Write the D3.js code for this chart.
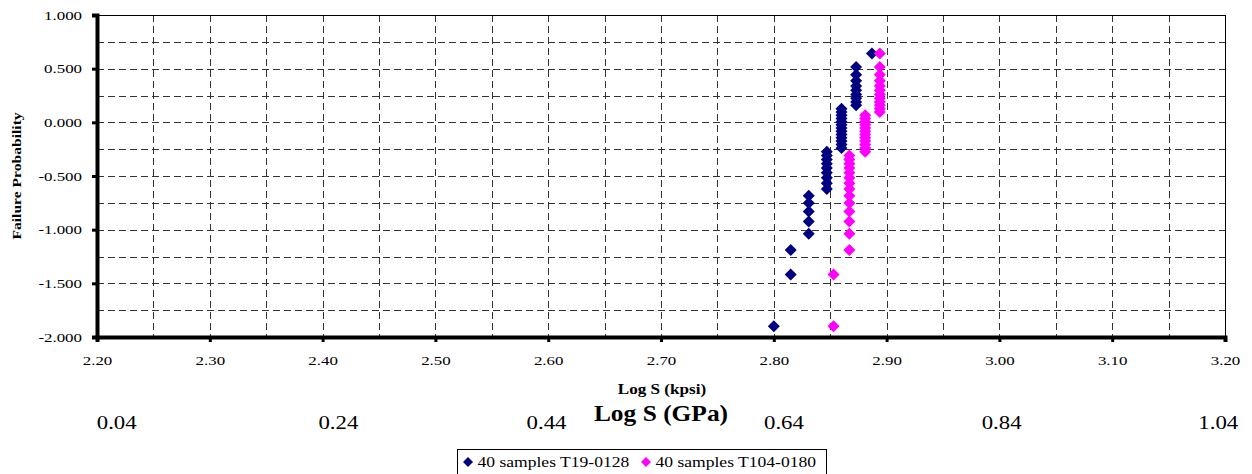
<!DOCTYPE html>
<html>
<head>
<meta charset="utf-8">
<script src="https://cdn.jsdelivr.net/npm/d3@7"></script>
<style>
  html, body { margin: 0; padding: 0; background: #fff; }
  svg { display: block; }
</style>
</head>
<body>
<svg id="chart" width="1252" height="474"></svg>
<script>
// ---- data ----
const xTicks = [2.20, 2.30, 2.40, 2.50, 2.60, 2.70, 2.80, 2.90, 3.00, 3.10, 3.20];
const yTicks = [1.0, 0.5, 0.0, -0.5, -1.0, -1.5, -2.0];
const gpaLabels = ["0.04", "0.24", "0.44", "0.64", "0.84", "1.04"];
const gpaLabelPos = [2.2175, 2.414, 2.5985, 2.809, 3.002, 3.194]; // kpsi-axis position of each label
const seriesNames = ["40 samples T19-0128", "40 samples T104-0180"];
const seriesColors = ["#000080", "#FF00FF"];

// failure probability (y) for ranks 1..40
const failureProb = [
  -1.900, -1.418, -1.190, -1.038, -0.923, -0.830, -0.751, -0.683, -0.622, -0.567,
  -0.516, -0.470, -0.426, -0.385, -0.347, -0.310, -0.274, -0.240, -0.207, -0.175,
  -0.144, -0.113, -0.083, -0.053, -0.023,  0.006,  0.036,  0.066,  0.096,  0.126,
   0.158,  0.190,  0.224,  0.259,  0.298,  0.339,  0.387,  0.443,  0.516,  0.642
];
// Log S (kpsi) for series 1 (navy), ranks 1..40
const logS_T19 = [
  2.800, 2.815, 2.815, 2.831, 2.831, 2.831, 2.831, 2.831, 2.847, 2.847,
  2.847, 2.847, 2.847, 2.847, 2.847, 2.847, 2.847, 2.860, 2.860, 2.860,
  2.860, 2.860, 2.860, 2.860, 2.860, 2.860, 2.860, 2.860, 2.860, 2.860,
  2.873, 2.873, 2.873, 2.873, 2.873, 2.873, 2.873, 2.873, 2.873, 2.887
];
// Log S (kpsi) for series 2 (magenta), ranks 1..40
const logS_T104 = [
  2.853, 2.853, 2.867, 2.867, 2.867, 2.867, 2.867, 2.867, 2.867, 2.867,
  2.867, 2.867, 2.867, 2.867, 2.867, 2.867, 2.881, 2.881, 2.881, 2.881,
  2.881, 2.881, 2.881, 2.881, 2.881, 2.881, 2.881, 2.881, 2.894, 2.894,
  2.894, 2.894, 2.894, 2.894, 2.894, 2.894, 2.894, 2.894, 2.894, 2.894
];

// ---- layout ----
const FONT = "Liberation Serif";
const L = 97, R = 1225, T = 15, B = 337;
const svg = d3.select("#chart").attr("font-family", FONT);
const x = d3.scaleLinear().domain([2.2, 3.2]).range([L, R]);
const y = d3.scaleLinear().domain([-2, 1]).range([B, T]);

// the reference text is horizontally stretched; widen glyphs by a factor
function stretch(sel, k) {
  sel.each(function () {
    const w = this.getComputedTextLength();
    d3.select(this).attr("textLength", w * k).attr("lengthAdjust", "spacingAndGlyphs");
  });
}
const fmt3 = d => d3.format(".3f")(d).replace("\u2212", "-");
const fmt2 = d => d3.format(".2f")(d).replace("\u2212", "-");

// gridlines
const grid = svg.append("g").attr("stroke", "#333").attr("stroke-width", 1)
  .attr("stroke-dasharray", "7,4").attr("fill", "none");
const vGrid = d3.range(2.25, 3.19, 0.05);
grid.selectAll("line.v").data(vGrid).join("line")
  .attr("x1", d => Math.round(x(d)) + 0.5).attr("x2", d => Math.round(x(d)) + 0.5)
  .attr("y1", T).attr("y2", B);
const hGrid = d3.range(-1.75, 0.99, 0.25);
grid.selectAll("line.h").data(hGrid).join("line")
  .attr("x1", L).attr("x2", R)
  .attr("y1", d => Math.round(y(d)) + 0.5).attr("y2", d => Math.round(y(d)) + 0.5);

// top and right border
svg.append("line").attr("x1", L).attr("x2", R + 1).attr("y1", T + 0.5).attr("y2", T + 0.5)
  .attr("stroke", "#000").attr("stroke-width", 1);
svg.append("line").attr("x1", R + 0.5).attr("x2", R + 0.5).attr("y1", T).attr("y2", B)
  .attr("stroke", "#000").attr("stroke-width", 1);

// axes
const yAxis = d3.axisLeft(y).tickValues(yTicks).tickFormat(fmt3).tickSize(5).tickPadding(10);
const gy = svg.append("g").attr("transform", `translate(${L},0)`).call(yAxis).attr("font-family", FONT);
gy.select(".domain").attr("stroke", "#000").attr("stroke-width", 4);
gy.selectAll(".tick line").attr("stroke", "#000").attr("stroke-width", 3);
gy.selectAll(".tick text").attr("font-size", 12.5).attr("fill", "#000").call(stretch, 1.35);

const xAxis = d3.axisBottom(x).tickValues(xTicks).tickFormat(fmt2).tickSize(5).tickPadding(14);
const gx = svg.append("g").attr("transform", `translate(0,${B})`).call(xAxis).attr("font-family", FONT);
gx.select(".domain").attr("stroke", "#000").attr("stroke-width", 4);
gx.selectAll(".tick line").attr("stroke", "#000").attr("stroke-width", 3);
gx.selectAll(".tick text").attr("font-size", 12.5).attr("fill", "#000").call(stretch, 1.35);

// titles
svg.append("text").attr("x", 662).attr("y", 394).attr("text-anchor", "middle")
  .attr("font-size", 14.5).attr("font-weight", "bold").text("Log S (kpsi)").call(stretch, 1.18);
svg.append("text").attr("x", 661).attr("y", 421).attr("text-anchor", "middle")
  .attr("font-size", 22.5).attr("font-weight", "bold").text("Log S (GPa)").call(stretch, 1.13);
svg.append("text").attr("transform", "translate(21,176) rotate(-90)").attr("text-anchor", "middle")
  .attr("font-size", 12).attr("font-weight", "bold").text("Failure Probability").call(stretch, 1.3);

// GPa secondary labels
svg.selectAll("text.gpa").data(gpaLabels).join("text").attr("class", "gpa")
  .attr("x", (d, i) => x(gpaLabelPos[i])).attr("y", 429).attr("text-anchor", "middle")
  .attr("font-size", 19.5).text(d => d).call(stretch, 1.17);

// markers
const diamond = r => `M0,${-r}L${r},0L0,${r}L${-r},0Z`;
const series = [logS_T19, logS_T104];
series.forEach((xs, si) => {
  svg.append("g").selectAll("path").data(xs).join("path")
    .attr("d", diamond(6))
    .attr("transform", (d, i) => `translate(${x(d)},${y(failureProb[i])})`)
    .attr("fill", seriesColors[si]);
});

// legend
const lg = svg.append("g");
lg.append("rect").attr("x", 457.5).attr("y", 449.5).attr("width", 369).attr("height", 30)
  .attr("fill", "#fff").attr("stroke", "#000").attr("stroke-width", 1);
const legendX = [468, 646];
seriesNames.forEach((name, i) => {
  lg.append("path").attr("d", diamond(5)).attr("transform", `translate(${legendX[i]},462)`)
    .attr("fill", seriesColors[i]);
  lg.append("text").attr("x", legendX[i] + 9.5).attr("y", 467).attr("font-size", 15)
    .text(name).call(stretch, 1.17);
});
</script>
</body>
</html>
